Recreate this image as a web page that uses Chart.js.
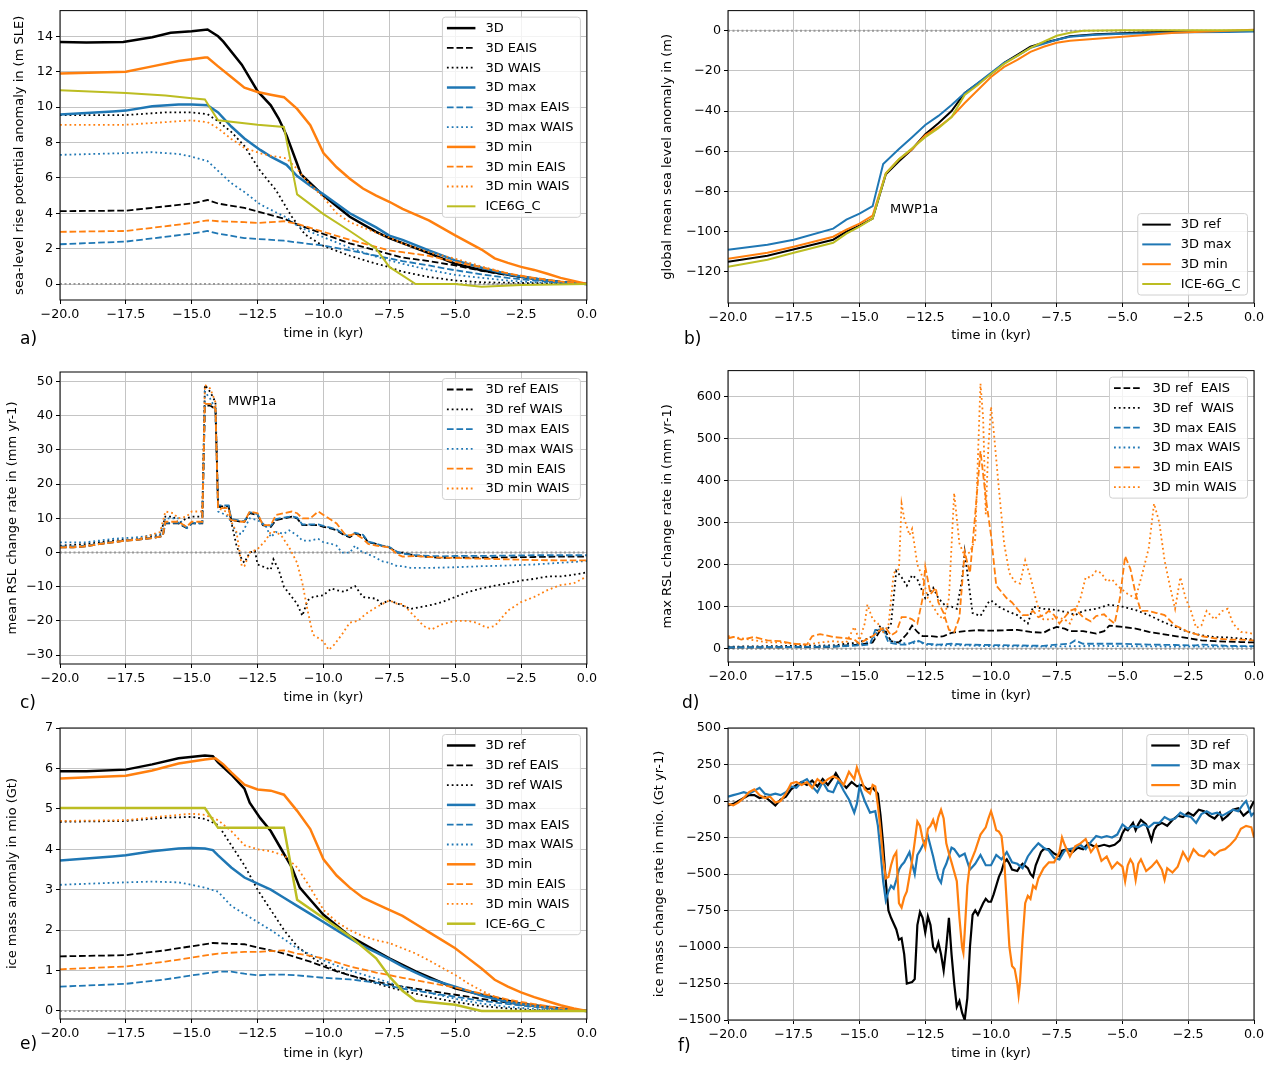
<!DOCTYPE html>
<html>
<head>
<meta charset="UTF-8">
<title>Antarctic ice sheet 3D runs</title>
<script src="https://cdn.jsdelivr.net/npm/chart.js"></script>
<style>
	body { margin: 0; background: #fff; }
	#wrap { position: relative; width: 1273px; height: 1065px; font-family: 'DejaVu Sans'; }
	#wrap canvas { position: absolute; }
	.lab { position: absolute; font-size: 17px; line-height: 20px; color: #000; }
	.note { position: absolute; font-size: 13px; line-height: 16px; color: #000; }
</style>
</head>
<body>
<div id="wrap">
	<canvas id="ca"></canvas>
	<canvas id="cb"></canvas>
	<canvas id="cc"></canvas>
	<canvas id="cd"></canvas>
	<canvas id="ce"></canvas>
	<canvas id="cf"></canvas>
	<div class="lab" style="left:20px;top:328px">a)</div>
	<div class="lab" style="left:684px;top:328px">b)</div>
	<div class="lab" style="left:20px;top:692px">c)</div>
	<div class="lab" style="left:682px;top:692px">d)</div>
	<div class="lab" style="left:20px;top:1033px">e)</div>
	<div class="lab" style="left:678px;top:1035px">f)</div>
	<div class="note" style="left:890px;top:201px">MWP1a</div>
	<div class="note" style="left:228px;top:393px">MWP1a</div>
</div>

<script>
// ---- common ticks ----
var xTicks = [-20, -17.5, -15, -12.5, -10, -7.5, -5, -2.5, 0];

// ---- a) sea-level rise potential (m SLE) ----
var aTicks = [0, 2, 4, 6, 8, 10, 12, 14];
var a_t_ref = [-20,-19,-17.6,-16.5,-15.8,-15,-14.4,-14,-13.8,-13.1,-12.5,-12,-11.7,-11.4,-11,-10.85,-10.5,-10,-9,-8,-7.5,-6,-5,-4,-2.5,-1,0];
var a_ref = [13.68,13.65,13.68,13.95,14.2,14.28,14.38,14.0,13.7,12.4,10.9,10.1,9.35,8.4,6.8,6.2,5.7,5.0,3.8,2.95,2.6,1.75,1.15,0.78,0.41,0.1,0];
var a_t_ref_eais = [-20,-17.5,-15,-14.4,-14,-13,-12.5,-11.5,-11,-10,-9,-8,-7,-6,-5,-4,-3,-2,-1,0];
var a_ref_eais = [4.12,4.15,4.55,4.75,4.55,4.3,4.1,3.7,3.38,2.83,2.3,1.9,1.5,1.3,1.05,0.75,0.5,0.3,0.12,0];
var a_t_ref_wais = [-20,-17.5,-16,-15,-14.4,-14,-13.5,-13,-12.4,-11.8,-11.2,-10.7,-10,-9,-8,-7.5,-7,-6,-5,-4,0];
var a_ref_wais = [9.55,9.55,9.7,9.7,9.6,9.2,8.6,7.8,6.4,5.3,3.8,2.8,2.15,1.6,1.15,0.95,0.7,0.4,0.2,0.1,0];
var a_t_max = [-20,-18,-17.5,-16.5,-15.5,-15,-14.4,-14,-13.5,-13,-12.4,-12,-11.4,-11,-10.5,-10,-9,-8,-7.5,-7,-6,-5,-4,-3,-2,-1,0];
var a_max = [9.58,9.75,9.8,10.05,10.15,10.15,10.1,9.7,8.9,8.23,7.58,7.2,6.74,6.1,5.55,5.07,4.0,3.2,2.74,2.5,1.9,1.34,0.92,0.56,0.3,0.12,0];
var a_t_max_eais = [-20,-17.5,-15,-14.4,-14,-13,-12.5,-11.5,-11,-10,-9,-8,-7.5,-7,-6,-5,-4,-3,-2,-1,0];
var a_max_eais = [2.25,2.4,2.85,3.0,2.85,2.6,2.55,2.45,2.35,2.18,1.9,1.6,1.45,1.3,1.05,0.78,0.55,0.35,0.2,0.07,0];
var a_t_max_wais = [-20,-17.5,-16.5,-15.5,-15,-14.4,-14,-13.5,-13,-12.4,-12,-11.4,-11,-10.5,-10,-9,-8,-7,-6,-5,-4,-3,-2,0];
var a_max_wais = [7.3,7.4,7.45,7.35,7.2,6.95,6.4,5.7,5.2,4.5,4.2,3.76,3.3,2.95,2.65,2.05,1.55,1.15,0.8,0.52,0.35,0.2,0.1,0];
var a_t_min = [-20,-17.5,-16.5,-15.5,-14.5,-14.4,-14,-13.5,-13,-12.5,-12,-11.5,-11,-10.5,-10,-9.5,-9,-8.5,-8,-7.5,-7,-6,-5,-4,-3.5,-3,-2.5,-2,-1.5,-1,0];
var a_min = [11.9,12.0,12.3,12.6,12.8,12.8,12.3,11.7,11.1,10.85,10.7,10.56,9.9,8.98,7.4,6.6,5.95,5.4,5.0,4.65,4.25,3.6,2.75,1.95,1.45,1.2,0.97,0.8,0.58,0.35,0];
var a_t_min_eais = [-20,-17.5,-15,-14.4,-14,-13,-12.5,-12,-11.5,-11,-10,-9,-8,-7.5,-7,-6,-5,-4,-3,-2,-1,0];
var a_min_eais = [2.95,3.0,3.45,3.6,3.55,3.5,3.45,3.5,3.55,3.4,2.95,2.5,2.1,1.9,1.8,1.6,1.25,0.95,0.6,0.35,0.15,0];
var a_t_min_wais = [-20,-17.5,-16,-15,-14.4,-14,-13.5,-13,-12.4,-12,-11.4,-11,-10.5,-10,-9.5,-9,-8,-7.5,-7,-6,-5,-4,-3,-2,-1,0];
var a_min_wais = [9.0,9.0,9.15,9.25,9.15,8.8,8.2,7.7,7.39,7.25,7.1,6.5,5.6,4.9,4.0,3.5,2.9,2.64,2.3,1.8,1.43,1.0,0.6,0.3,0.12,0];
var a_t_ice = [-20,-17.5,-16,-15,-14.5,-14,-12.5,-11.5,-11,-10,-9,-8,-7.5,-6.5,-5,-4,-2.5,0];
var a_ice = [10.95,10.8,10.65,10.5,10.43,9.25,9.0,8.88,5.07,3.95,3.0,2.0,0.97,0,0,-0.15,-0.05,0];

// ---- b) global mean sea level (m) ----
var bTicks = [-120, -100, -80, -60, -40, -20, 0];
var b_t_ref = [-20,-18.5,-16,-15.5,-15,-14.5,-14,-13.5,-13,-12.5,-12,-11.5,-11,-10,-9.5,-9,-8.5,-8,-7.5,-7,-6,-5,-4,-2.5,0];
var b_ref = [-115,-112,-104,-100,-97,-93.5,-71.5,-65,-59,-51.5,-46,-40,-31,-21.5,-16,-12,-8,-6,-4.5,-2.8,-1.8,-1.3,-0.8,-0.4,0];
var b_t_max = [-20,-18.5,-17.5,-16,-15.5,-15,-14.5,-14.1,-13.5,-13,-12.5,-12,-11.5,-11,-10.5,-10,-9.5,-9,-8.5,-8,-7.5,-7,-6,-5,-4,-2.5,-1,0];
var b_max = [-109,-106.5,-104,-98.5,-94,-91,-87.3,-66.3,-58.9,-53,-46.9,-42.4,-37,-31,-26,-21,-16,-12.5,-8.5,-6.5,-4.5,-3,-2,-1.5,-1.2,-0.8,-0.6,-0.4];
var b_t_min = [-20,-18.5,-17.5,-16,-15.5,-15,-14.5,-14,-13.5,-13,-12.5,-12,-11.5,-11,-10.5,-10,-9.5,-9,-8.5,-8,-7.5,-7,-6,-5,-4,-3,-2,-1,0];
var b_min = [-113.5,-110.5,-107.5,-102.5,-99,-96,-92,-71,-64,-59,-52,-48,-43,-36,-29.5,-23,-18,-14.5,-10.5,-8,-6,-5,-4,-3,-2,-1,-0.5,0,0.5];
var b_t_ice = [-20,-18.5,-17.5,-16,-15.5,-15,-14.5,-14,-13.5,-13,-12.5,-12,-11.5,-11,-10.5,-10,-9.5,-9,-8.5,-8,-7.5,-7,-6.5,-5,0];
var b_ice = [-117.5,-114,-110.5,-105.5,-101,-97.5,-93.5,-71,-64,-58.5,-53,-48.5,-43,-32,-27,-21.5,-16.5,-12.5,-8.5,-5.5,-2.5,-1,0,0.2,0.2];

// ---- c) mean RSL change rate (mm/yr) ----
var cTicks = [-30, -20, -10, 0, 10, 20, 30, 40, 50];
var c_t_eais = [-20,-19.5,-19,-18.5,-18,-17.5,-17,-16.5,-16.1,-16,-15.5,-15.2,-15,-14.6,-14.5,-14.3,-14.1,-14,-13.6,-13.5,-13.1,-13,-12.8,-12.5,-12.3,-12,-11.8,-11.5,-11.2,-11,-10.8,-10.5,-10.2,-10,-9.7,-9.5,-9.2,-9,-8.8,-8.5,-8.3,-8,-7.8,-7.5,-7.2,-7,-6.5,-6,-5.5,-5,-4,-3,-2,-1,0];
var c_ref_eais = [1.5,1.5,1.8,2.5,3,3.5,3.8,4.2,4.8,8.5,8.5,7.2,8.5,8.5,43,43,42,13.5,13.5,9.5,9,9,11.5,11,8,7.5,9.5,10,10.5,10,8,8,8,7.5,7,6.5,5,4.5,5.5,5,3,2.5,2,1.5,0,0,-1,-1.3,-1.6,-1.5,-1.5,-1.4,-1.3,-1.2,-1.2];
var c_max_eais = [1.8,1.8,2,2.6,3.1,3.6,3.9,4.3,4.9,8.7,8.7,7.3,8.7,8.7,43.5,43.5,42,13.8,13.8,9.8,9.2,9.2,11.8,11.2,8.2,7.8,9.8,10.2,10.6,10.2,8.2,8.2,8.2,7.8,7.2,6.8,5.2,4.8,5.8,5.2,3.2,2.6,2.1,1.6,0.2,-0.3,-0.8,-1,-1.1,-1,-1,-0.9,-0.8,-0.8,-0.8];
var c_min_eais = [1.5,1.5,1.8,2.5,3,3.5,3.8,4.2,4.8,9,9,7.5,9,9,43.5,43.5,42,13,13,9.5,9,9,12,11.5,8,8,11,11.5,12,11.5,10,10,12,11,9.5,8.5,5.5,5,5.5,4,2.5,2,1.8,1.5,-0.5,-1.2,-1,-1.3,-1.5,-1.6,-1.8,-2,-2.2,-2.3,-2.3];
var c_t_ref_wais = [-20,-19,-18,-17,-16.2,-16,-15.7,-15.5,-15.2,-15,-14.6,-14.5,-14.3,-14.1,-14,-13.8,-13.6,-13.5,-13.3,-13.1,-13,-12.8,-12.6,-12.5,-12,-11.9,-11.7,-11.5,-11,-10.8,-10.6,-10.4,-10,-9.7,-9.5,-9.2,-9,-8.8,-8.5,-8,-7.8,-7.5,-7,-6.7,-6,-5.5,-5,-4.5,-4,-3.5,-3,-2.5,-2,-1.5,-1,-0.5,0];
var c_ref_wais = [2,2.5,3.5,4,5,10.5,10.5,8.5,10,10.5,10.5,49,47,44,13.5,13,13.5,9,2,-2,-3,0,0.5,-3.5,-5,-2,-5,-10,-15,-18.5,-14,-13,-12.5,-10.5,-11,-11.5,-10.5,-9.8,-13,-13.5,-15,-14,-15.5,-16.5,-15.5,-14.5,-13,-11.5,-10.5,-9.7,-9,-8.2,-7.7,-7,-7,-6.5,-5.8];
var c_t_max_wais = [-20,-19,-18,-17,-16.2,-16,-15.5,-15.2,-15,-14.6,-14.5,-14.3,-14.1,-14,-13.7,-13.5,-13.3,-13.1,-12.8,-12.5,-12.2,-12,-11.8,-11.5,-11.3,-11,-10.8,-10.5,-10.2,-10,-9.7,-9.5,-9.3,-9,-8.8,-8.6,-8.3,-8,-7.8,-7.5,-7.2,-7,-6.7,-6,-5,-4,-3,-2,-1,0];
var c_max_wais = [3,3,4,4.5,5.5,10,10,7,8.5,8.5,47,45,42,12,11,9,5.5,5.5,10,9.5,8,4.5,6,5.5,6.5,5,3.5,3.5,4,3,2.5,2,0,0,2,0.5,-0.5,-1.5,-2.5,-3,-4,-4,-4.5,-4.5,-4.3,-4,-3.8,-3.5,-3,-2.5];
var c_t_min_wais = [-20,-19,-18,-17,-16.2,-16,-15.7,-15.5,-15.2,-15,-14.6,-14.5,-14.3,-14.1,-14,-13.7,-13.5,-13.3,-13.1,-13,-12.8,-12.5,-12.2,-12,-11.8,-11.6,-11.3,-11,-10.8,-10.6,-10.4,-10.2,-10,-9.8,-9.6,-9.3,-9,-8.7,-8.4,-8,-7.5,-7.2,-7,-6.5,-6.2,-5.9,-5.5,-5,-4.5,-4.2,-3.8,-3.5,-3,-2.5,-2,-1.5,-1,-0.5,0];
var c_min_wais = [1.5,2,3,4,6,12,11.5,10,10.5,12,12,49,48,44,13,12,9,6,-4,-4,0,1,3.5,6,6,5,1.5,-3,-9,-17,-24,-25,-26,-28.5,-27,-24,-20.5,-20,-18,-16,-14,-15,-15,-19,-21.5,-22.5,-21,-20,-20,-20.5,-22,-21.5,-17,-14.5,-13,-11,-9.5,-9,-7];

// ---- d) max RSL change rate (mm/yr) ----
var dTicks = [0, 100, 200, 300, 400, 500, 600];
var d_t_ref_eais = [-20,-17,-16,-15.5,-15,-14.5,-14.2,-14,-13.8,-13.5,-13.2,-13,-12.8,-12.6,-12.3,-12,-11.8,-11.5,-11,-10.5,-10,-9.5,-9,-8.5,-8,-7.8,-7.5,-7.2,-7,-6.5,-6,-5.7,-5.5,-5,-4.5,-4,-3.5,-3,-2.5,-2,-1.5,-1,-0.5,0];
var d_ref_eais = [3,4,5,8,10,15,45,40,18,15,35,55,40,30,30,28,30,38,42,44,43,44,45,40,38,45,52,48,42,42,36,42,55,52,48,40,35,30,25,20,18,17,16,15];
var d_t_ref_wais = [-20,-16,-15.5,-15,-14.5,-14.2,-14,-13.8,-13.6,-13.4,-13.2,-13,-12.8,-12.5,-12.2,-12,-11.7,-11.5,-11.3,-11.1,-11,-10.9,-10.7,-10.4,-10.1,-10,-9.7,-9.4,-9,-8.6,-8.4,-8,-7.5,-7,-6.8,-6.5,-6,-5.5,-5,-4.5,-4,-3.5,-3,-2.5,-2,-1.5,-1,0];
var d_ref_wais = [5,8,12,15,30,55,40,60,185,170,150,175,165,120,145,120,100,100,95,165,230,180,85,78,110,115,100,90,80,60,100,95,92,85,80,90,95,105,100,92,80,65,52,40,32,28,27,22];
var d_t_max_eais = [-20,-16,-15,-14.6,-14.4,-14.1,-13.9,-13.5,-13.2,-12.8,-12.5,-12,-11.5,-11,-10,-9,-8,-7.5,-7,-6.8,-6.5,-5,-4,-3,-2.2,-2,-1,0];
var d_max_eais = [3,5,8,10,45,45,15,10,10,20,12,10,12,10,9,8,7,10,12,20,12,12,10,9,8,10,7,6];
var d_t_max_wais = [-20,-16,-15,-14.5,-14.3,-14.1,-13.9,-13.5,-13,-12.8,-12.5,-12,-11,-10,-9,-8,-7,-6,-5,-4,-3,-2,-1,0];
var d_max_wais = [3,6,10,20,45,48,20,14,12,18,10,8,8,6,6,5,6,7,6,6,5,5,5,5];
var d_t_min_eais = [-20,-19.8,-19.5,-19,-18.5,-18,-17.5,-17,-16.8,-16.5,-16,-15.5,-15.2,-15,-14.8,-14.5,-14.2,-14,-13.8,-13.6,-13.4,-13.2,-13,-12.8,-12.6,-12.5,-12.3,-12.1,-12,-11.8,-11.6,-11.4,-11.2,-11,-10.8,-10.6,-10.4,-10.2,-10,-9.8,-9.6,-9.4,-9.2,-9,-8.8,-8.6,-8.4,-8.2,-8,-7.8,-7.6,-7.4,-7.2,-7,-6.8,-6.5,-6.2,-6,-5.7,-5.5,-5.3,-5.1,-4.9,-4.7,-4.5,-4.3,-4,-3.7,-3.4,-3,-2.8,-2.5,-2.2,-2,-1.8,-1.5,-1,-0.5,0];
var d_min_eais = [25,28,22,28,20,18,12,10,30,35,28,25,22,12,20,30,45,50,32,40,75,75,70,60,120,195,130,145,110,85,45,40,75,230,180,320,470,360,270,150,135,120,110,95,80,80,90,75,80,90,80,60,75,90,95,75,65,78,82,70,60,120,220,190,130,90,90,85,80,55,50,40,35,30,28,25,22,22,20];
var d_t_min_wais = [-20,-19.5,-19,-18.5,-18,-17.5,-17,-16.5,-16,-15.5,-15.2,-15,-14.8,-14.7,-14.5,-14.3,-14.1,-13.9,-13.7,-13.5,-13.4,-13.3,-13.1,-13,-12.8,-12.6,-12.4,-12.2,-12,-11.8,-11.6,-11.4,-11.2,-11,-10.8,-10.6,-10.5,-10.4,-10.3,-10.2,-10.1,-10,-9.9,-9.7,-9.5,-9.3,-9.1,-8.9,-8.7,-8.5,-8.3,-8.1,-8,-7.7,-7.5,-7.2,-7,-6.8,-6.6,-6.4,-6.2,-6,-5.8,-5.6,-5.4,-5.2,-5,-4.8,-4.5,-4.2,-4,-3.8,-3.6,-3.4,-3.2,-3,-2.8,-2.6,-2.4,-2.2,-2,-1.8,-1.5,-1.2,-1,-0.8,-0.5,-0.2,0];
var d_min_wais = [30,25,20,15,15,12,10,15,18,15,52,20,60,105,70,60,40,55,180,190,345,310,270,285,200,170,120,100,80,70,120,370,250,220,230,260,450,630,550,320,480,575,520,380,250,180,160,155,210,170,120,75,70,70,75,70,60,90,120,170,170,185,180,160,165,150,140,130,120,190,240,345,300,210,150,95,170,120,90,50,55,90,70,90,95,60,40,38,35];

// ---- e) ice mass anomaly (mio Gt) ----
var eTicks = [0, 1, 2, 3, 4, 5, 6, 7];
var e_t_ref = [-20,-19,-17.5,-16.5,-15.5,-14.5,-14.2,-14,-13.5,-13,-12.8,-12.4,-12,-11.6,-11.2,-10.9,-10.5,-10,-9,-8.3,-7.5,-6.5,-5,-4,-2.5,-1,0];
var e_ref = [5.93,5.93,5.97,6.1,6.25,6.32,6.3,6.15,5.85,5.5,5.15,4.77,4.45,4.0,3.55,3.05,2.75,2.38,1.85,1.59,1.3,0.98,0.56,0.4,0.18,0.06,0];
var e_t_ref_eais = [-20,-17.5,-16,-15,-14.2,-13.5,-13,-12.5,-12,-11.5,-11,-10.5,-10,-9.5,-9,-8,-7,-6,-5,-4,-3,-2,-1,0];
var e_ref_eais = [1.35,1.38,1.5,1.6,1.68,1.66,1.65,1.57,1.5,1.42,1.32,1.22,1.1,0.98,0.88,0.72,0.6,0.5,0.4,0.3,0.2,0.12,0.05,0];
var e_t_ref_wais = [-20,-17.5,-16,-15,-14.5,-14,-13.5,-13,-12.5,-12,-11.5,-11,-10.5,-10,-9.5,-9,-8,-7,-6,-5,-4,-3,-2,0];
var e_ref_wais = [4.68,4.7,4.78,4.8,4.75,4.6,4.1,3.6,3.0,2.5,2.0,1.6,1.35,1.15,1.0,0.88,0.68,0.5,0.35,0.22,0.12,0.06,0.02,0];
var e_t_max = [-20,-18,-17.5,-16.5,-15.5,-15,-14.5,-14.2,-14,-13.5,-13,-12.5,-12,-11.5,-11,-10.5,-10,-9.5,-9,-8.5,-8,-7.5,-7,-6.5,-6,-5,-4,-3,-2,-1,0];
var e_max = [3.72,3.82,3.85,3.95,4.02,4.03,4.02,3.98,3.85,3.55,3.3,3.15,3.0,2.8,2.6,2.4,2.2,2.0,1.8,1.6,1.45,1.28,1.1,0.95,0.8,0.6,0.38,0.22,0.12,0.05,0];
var e_t_max_eais = [-20,-17.5,-16,-15,-14,-13.5,-13,-12.5,-12,-11.5,-11,-10,-9,-8,-7,-6,-5,-4,-3,-2,-1,0];
var e_max_eais = [0.6,0.67,0.78,0.88,0.97,0.97,0.92,0.88,0.9,0.9,0.88,0.82,0.78,0.7,0.55,0.45,0.35,0.25,0.17,0.1,0.04,0];
var e_t_max_wais = [-20,-18,-16.5,-15.5,-15,-14.5,-14,-13.5,-13,-12.5,-12,-11.5,-11,-10.5,-10,-9.5,-9,-8,-7,-6,-5,-4,-3,-2,0];
var e_max_wais = [3.12,3.17,3.2,3.18,3.12,3.05,2.95,2.6,2.4,2.2,2.0,1.78,1.55,1.4,1.25,1.12,1.0,0.8,0.6,0.45,0.3,0.18,0.1,0.05,0];
var e_t_min = [-20,-17.5,-16.5,-15.5,-14.5,-14.1,-13.8,-13.5,-13,-12.5,-12,-11.5,-11,-10.5,-10,-9.5,-9,-8.5,-8,-7.5,-7,-6.5,-6,-5.5,-5,-4.5,-4,-3.5,-3,-2.5,-2,-1.5,-1,-0.5,0];
var e_min = [5.75,5.82,5.95,6.12,6.22,6.25,6.1,5.9,5.6,5.48,5.45,5.35,4.95,4.5,3.75,3.35,3.05,2.8,2.65,2.5,2.35,2.15,1.95,1.75,1.55,1.3,1.05,0.77,0.6,0.46,0.34,0.24,0.14,0.06,0];
var e_t_min_eais = [-20,-17.5,-16,-15,-14,-13,-12.5,-12,-11.5,-11,-10,-9,-8,-7,-6,-5,-4,-3,-2,-1,0];
var e_min_eais = [1.03,1.1,1.22,1.32,1.42,1.46,1.46,1.48,1.5,1.42,1.3,1.1,0.95,0.82,0.7,0.58,0.43,0.28,0.17,0.07,0];
var e_t_min_wais = [-20,-17.5,-16,-15,-14.5,-14,-13.5,-13,-12.5,-12,-11.5,-11,-10.5,-10,-9.5,-9,-8.5,-8,-7.5,-7,-6.5,-6,-5.5,-5,-4.5,-4,-3.5,-3,-2.5,-2,-1,0];
var e_min_wais = [4.7,4.72,4.82,4.88,4.85,4.72,4.45,4.1,4.0,3.95,3.85,3.55,3.05,2.5,2.2,2.0,1.85,1.75,1.68,1.55,1.42,1.25,1.07,0.89,0.68,0.5,0.35,0.25,0.18,0.12,0.05,0];
var e_t_ice = [-20,-14.5,-14,-11.5,-11,-10,-9,-8,-7.5,-7,-6.5,-5,-4,0];
var e_ice = [5.02,5.02,4.53,4.53,2.75,2.3,1.85,1.3,0.85,0.5,0.25,0.15,0,0];

// ---- f) ice mass change rate (mio Gt/yr) ----
var fTicks = [-1500, -1250, -1000, -750, -500, -250, 0, 250, 500];
var f_t_ref = [-20,-19.8,-19.6,-19.4,-19.2,-19,-18.8,-18.6,-18.4,-18.2,
	-18,-17.8,-17.6,-17.4,-17.2,-17,-16.8,-16.6,-16.4,-16.2,
	-16,-15.9,-15.7,-15.5,-15.3,-15.1,-14.9,-14.7,-14.5,-14.3,
	-14.2,-14.1,-14,-13.9,-13.8,-13.6,-13.5,-13.4,-13.3,-13.2,
	-13,-12.9,-12.8,-12.7,-12.6,-12.5,-12.4,-12.3,-12.2,-12.1,
	-12,-11.9,-11.8,-11.7,-11.6,-11.5,-11.4,-11.3,-11.2,-11.1,
	-11,-10.9,-10.8,-10.7,-10.6,-10.5,-10.4,-10.3,-10.2,-10.1,
	-10,-9.9,-9.8,-9.7,-9.6,-9.5,-9.4,-9.3,-9.2,-9,
	-8.9,-8.8,-8.6,-8.5,-8.4,-8.3,-8.1,-8,-7.8,-7.6,
	-7.4,-7.3,-7.1,-6.9,-6.7,-6.5,-6.3,-6.1,-5.9,-5.7,
	-5.5,-5.3,-5.1,-5,-4.9,-4.8,-4.6,-4.5,-4.4,-4.3,
	-4.1,-3.9,-3.8,-3.7,-3.5,-3.3,-3.1,-2.9,-2.7,-2.5,
	-2.3,-2.1,-1.9,-1.7,-1.5,-1.3,-1.2,-1,-0.8,-0.6,
	-0.4,-0.2,0];
var f_ref = [-30,-20,0,20,40,40,20,30,0,-30,
	10,30,80,110,130,110,140,100,150,110,
	160,190,130,90,130,100,110,80,90,50,
	-100,-300,-550,-750,-800,-880,-950,-940,-1050,-1250,
	-1240,-1220,-850,-760,-800,-900,-790,-850,-1000,-1030,
	-970,-1050,-1160,-1000,-800,-1050,-1250,-1410,-1370,-1450,
	-1500,-1350,-1000,-780,-750,-780,-740,-700,-670,-690,
	-690,-640,-580,-520,-480,-420,-400,-430,-470,-480,
	-450,-430,-460,-500,-520,-440,-350,-330,-330,-360,
	-380,-340,-330,-350,-320,-330,-290,-310,-310,-300,
	-310,-300,-270,-220,-190,-200,-150,-200,-160,-130,
	-160,-270,-200,-170,-150,-170,-130,-100,-110,-80,
	-100,-60,-70,-100,-120,-80,-130,-100,-60,-50,
	-100,-70,0];
var f_t_max = [-20,-19.8,-19.6,-19.4,-19.2,-19,-18.8,-18.6,-18.4,-18.2,
	-18,-17.8,-17.6,-17.4,-17.2,-17,-16.8,-16.6,-16.4,-16.2,
	-16,-15.8,-15.6,-15.4,-15.2,-15.1,-15,-14.8,-14.6,-14.4,
	-14.3,-14.2,-14.1,-14,-13.9,-13.8,-13.7,-13.6,-13.5,-13.4,
	-13.3,-13.1,-13,-12.9,-12.8,-12.7,-12.5,-12.4,-12.3,-12.2,
	-12.1,-12,-11.9,-11.8,-11.7,-11.5,-11.4,-11.2,-11,-10.8,
	-10.6,-10.4,-10.2,-10,-9.8,-9.6,-9.4,-9.2,-9,-8.8,
	-8.6,-8.4,-8.2,-8,-7.8,-7.6,-7.4,-7.2,-7,-6.8,
	-6.6,-6.4,-6.2,-6,-5.8,-5.6,-5.4,-5.2,-5,-4.8,
	-4.6,-4.4,-4.2,-4,-3.8,-3.6,-3.4,-3.2,-3,-2.8,
	-2.6,-2.4,-2.2,-2,-1.8,-1.6,-1.4,-1.2,-1,-0.8,
	-0.6,-0.4,-0.3,-0.1,0];
var f_max = [30,40,50,60,50,70,90,50,40,50,
	40,60,100,90,130,150,100,60,130,70,
	60,140,70,10,-80,-20,100,0,-80,-70,
	-170,-350,-550,-680,-620,-580,-600,-540,-470,-440,
	-420,-350,-430,-500,-370,-340,-270,-240,-310,-380,
	-460,-530,-560,-470,-430,-320,-330,-380,-360,-470,
	-430,-370,-440,-440,-370,-400,-350,-420,-430,-460,
	-380,-330,-290,-320,-340,-390,-400,-340,-330,-320,
	-300,-330,-280,-240,-250,-240,-250,-230,-160,-190,
	-170,-180,-160,-180,-150,-150,-110,-130,-120,-80,
	-100,-110,-150,-90,-70,-90,-80,-100,-80,-60,
	-70,-20,0,-100,-80];
var f_t_min = [-20,-19.8,-19.6,-19.4,-19.2,-19,-18.8,-18.6,-18.4,-18.2,
	-18,-17.8,-17.6,-17.4,-17.2,-17,-16.8,-16.6,-16.4,-16.2,
	-16,-15.8,-15.6,-15.4,-15.2,-15.1,-15,-14.8,-14.6,-14.5,
	-14.4,-14.3,-14.2,-14.1,-14,-13.9,-13.8,-13.7,-13.6,-13.5,
	-13.4,-13.3,-13.2,-13,-12.9,-12.8,-12.7,-12.6,-12.5,-12.4,
	-12.3,-12.2,-12.1,-12,-11.9,-11.8,-11.7,-11.6,-11.5,-11.3,
	-11.2,-11.1,-11.05,-11,-10.9,-10.8,-10.6,-10.4,-10.2,-10.1,
	-10,-9.9,-9.8,-9.7,-9.6,-9.5,-9.4,-9.3,-9.2,-9.1,
	-9,-8.95,-8.9,-8.8,-8.7,-8.6,-8.5,-8.4,-8.3,-8.2,
	-8,-7.8,-7.6,-7.4,-7.3,-7.2,-7,-6.8,-6.6,-6.4,
	-6.2,-6,-5.8,-5.6,-5.4,-5.2,-5,-4.9,-4.8,-4.7,
	-4.6,-4.5,-4.4,-4.3,-4.1,-3.9,-3.7,-3.5,-3.4,-3.3,
	-3.1,-2.9,-2.7,-2.5,-2.3,-2.1,-1.9,-1.7,-1.5,-1.3,
	-1.1,-0.9,-0.7,-0.5,-0.3,-0.1,0];
var f_min = [-20,-30,-10,20,60,80,40,20,30,-10,
	0,50,120,130,110,130,90,150,120,150,
	170,150,110,200,150,230,180,80,50,110,
	100,-30,-200,-400,-530,-520,-440,-380,-350,-700,
	-730,-660,-620,-410,-280,-140,-170,-260,-320,-190,
	-170,-130,-190,-110,-60,-120,-290,-360,-420,-550,
	-800,-1000,-1040,-900,-580,-430,-340,-230,-180,-120,
	-70,-130,-200,-210,-240,-400,-700,-1000,-1130,-1150,
	-1250,-1330,-1250,-950,-700,-650,-670,-580,-600,-530,
	-460,-420,-420,-350,-250,-300,-380,-310,-290,-260,
	-350,-300,-410,-380,-460,-420,-450,-550,-440,-400,
	-430,-540,-430,-400,-480,-450,-410,-470,-540,-460,
	-490,-450,-350,-410,-330,-370,-380,-340,-370,-340,
	-330,-300,-260,-190,-170,-180,-250];

// ---- colours ----
var BLACK = '#000000', BLUE = '#1f77b4', ORANGE = '#ff7f0e', OLIVE = '#bcbd22';
var FONT = 'DejaVu Sans';

Chart.defaults.font.family = FONT;
Chart.defaults.color = '#000';

function fmt(v, d) {
	var s = Math.abs(v).toFixed(d);
	return (v < 0 ? '\u2212' : '') + s;
}

// one line, matplotlib style dashes
function ser(label, t, v, color, kind, w) {
	var dash = [];
	if (kind == 'dashed') dash = [3.7 * w, 1.6 * w];
	if (kind == 'dotted') dash = [w, 1.65 * w];
	return {
		label: label,
		data: t.map(function (x, i) { return { x: x, y: v[i] }; }),
		borderColor: color, borderWidth: w, borderDash: dash,
		pointRadius: 0, tension: 0, fill: false
	};
}

// gray dotted zero line, not in legend
function zeroLine() {
	return {
		data: [{ x: -20, y: 0 }, { x: 0, y: 0 }],
		borderColor: '#999999', borderWidth: 2, borderDash: [2, 2.5],
		pointRadius: 0, fill: false
	};
}

// black frame round the plot area
var framePlugin = {
	id: 'frame',
	afterDatasetsDraw: function (chart) {
		var a = chart.chartArea, ctx = chart.ctx;
		ctx.save();
		ctx.strokeStyle = '#000';
		ctx.lineWidth = 1;
		ctx.strokeRect(a.left, a.top, a.right - a.left, a.bottom - a.top);
		ctx.restore();
	}
};

// legend box drawn inside the axes like matplotlib
var mplLegend = {
	id: 'mplLegend',
	afterDraw: function (chart, args, opts) {
		var ctx = chart.ctx, a = chart.chartArea;
		var sets = chart.data.datasets.filter(function (d) { return d.label; });
		if (!sets.length) return;
		ctx.save();
		ctx.font = '13px "' + FONT + '"';
		var tw = 0;
		sets.forEach(function (d) { tw = Math.max(tw, ctx.measureText(d.label).width); });
		var rowH = 19.8;
		var w = 43 + tw + 7, h = (sets.length - 1) * rowH + 22;
		var x0 = a.right - 6.5 - w;
		var y0 = opts.bottom ? a.bottom - 8 - h : a.top + 6.5;
		ctx.beginPath();
		ctx.roundRect(x0, y0, w, h, 3);
		ctx.fillStyle = 'rgba(255,255,255,0.8)';
		ctx.fill();
		ctx.strokeStyle = '#d0d0d0';
		ctx.lineWidth = 1;
		ctx.stroke();
		sets.forEach(function (d, i) {
			var y = y0 + 11 + i * rowH;
			ctx.beginPath();
			ctx.setLineDash(d.borderDash || []);
			ctx.strokeStyle = d.borderColor;
			ctx.lineWidth = d.borderWidth;
			ctx.moveTo(x0 + 4.5, y);
			ctx.lineTo(x0 + 33, y);
			ctx.stroke();
			ctx.setLineDash([]);
			ctx.fillStyle = '#000';
			ctx.textBaseline = 'middle';
			ctx.fillText(d.label, x0 + 43, y + 0.5);
		});
		ctx.restore();
	}
};

Chart.register(framePlugin, mplLegend);

function panel(id, g, yTicks, yMin, yMax, yTitle, sets, legendBottom) {
	var c = document.getElementById(id);
	c.width = g.w; c.height = g.h;
	c.style.left = g.x + 'px'; c.style.top = g.y + 'px';
	c.style.width = g.w + 'px'; c.style.height = g.h + 'px';

	var all = [zeroLine()].concat(sets);
	// later series drawn on top
	all.forEach(function (d, i) { d.order = all.length - i; });

	var tickFont = { family: FONT, size: 12.7 };
	var titleFont = { family: FONT, size: 13 };
	var gridCol = '#c4c4c4';

	new Chart(c, {
		type: 'line',
		data: { datasets: all },
		options: {
			responsive: false,
			animation: false,
			devicePixelRatio: 1,
			layout: { padding: { left: 0, bottom: 0, top: g.T - g.y, right: g.x + g.w - g.R } },
			plugins: {
				legend: { display: false },
				tooltip: { enabled: false },
				mplLegend: { bottom: !!legendBottom }
			},
			scales: {
				x: {
					type: 'linear', min: -20, max: 0,
					afterBuildTicks: function (s) { s.ticks = xTicks.map(function (v) { return { value: v }; }); },
					afterFit: function (s) { s.height = g.y + g.h - g.B; },
					grid: { color: gridCol, lineWidth: 1, tickColor: '#000', tickLength: 4, drawTicks: true },
					border: { display: false },
					ticks: { font: tickFont, color: '#000', padding: 3, maxRotation: 0, autoSkip: false,
						callback: function (v) { return fmt(v, 1); } },
					title: { display: true, text: 'time in (kyr)', color: '#000', font: titleFont,
						padding: { top: 0, bottom: g.xt } }
				},
				y: {
					type: 'linear', min: yMin, max: yMax,
					afterBuildTicks: function (s) { s.ticks = yTicks.map(function (v) { return { value: v }; }); },
					afterFit: function (s) { s.width = g.L - g.x; },
					grid: { color: gridCol, lineWidth: 1, tickColor: '#000', tickLength: 4, drawTicks: true },
					border: { display: false },
					ticks: { font: tickFont, color: '#000', padding: 3, autoSkip: false,
						callback: function (v) { return fmt(v, 0); } },
					title: { display: true, text: yTitle, color: '#000', font: titleFont,
						padding: { top: g.yt, bottom: 0 } }
				}
			}
		}
	});
}

// a)
panel('ca', { x: 0, y: 0, w: 600, h: 345, L: 60, R: 587, T: 7, B: 300, yt: 12, xt: 4 },
	aTicks, -0.9, 15.45, 'sea-level rise potential anomaly in (m SLE)', [
	ser('3D', a_t_ref, a_ref, BLACK, 'solid', 2.5),
	ser('3D EAIS', a_t_ref_eais, a_ref_eais, BLACK, 'dashed', 1.8),
	ser('3D WAIS', a_t_ref_wais, a_ref_wais, BLACK, 'dotted', 1.8),
	ser('3D max', a_t_max, a_max, BLUE, 'solid', 2.5),
	ser('3D max EAIS', a_t_max_eais, a_max_eais, BLUE, 'dashed', 1.8),
	ser('3D max WAIS', a_t_max_wais, a_max_wais, BLUE, 'dotted', 1.8),
	ser('3D min', a_t_min, a_min, ORANGE, 'solid', 2.5),
	ser('3D min EAIS', a_t_min_eais, a_min_eais, ORANGE, 'dashed', 1.8),
	ser('3D min WAIS', a_t_min_wais, a_min_wais, ORANGE, 'dotted', 1.8),
	ser('ICE6G_C', a_t_ice, a_ice, OLIVE, 'solid', 2)
]);

// b)
panel('cb', { x: 640, y: 0, w: 633, h: 345, L: 728, R: 1254, T: 9, B: 303, yt: 20, xt: 2 },
	bTicks, -135.5, 10, 'global mean sea level anomaly in (m)', [
	ser('3D ref', b_t_ref, b_ref, BLACK, 'solid', 2),
	ser('3D max', b_t_max, b_max, BLUE, 'solid', 2),
	ser('3D min', b_t_min, b_min, ORANGE, 'solid', 2),
	ser('ICE-6G_C', b_t_ice, b_ice, OLIVE, 'solid', 2)
], true);

// c)
panel('cc', { x: 0, y: 360, w: 600, h: 345, L: 60, R: 587, T: 372, B: 664, yt: 5, xt: 0 },
	cTicks, -32.6, 52.8, 'mean RSL change rate in (mm yr-1)', [
	ser('3D ref EAIS', c_t_eais, c_ref_eais, BLACK, 'dashed', 1.8),
	ser('3D ref WAIS', c_t_ref_wais, c_ref_wais, BLACK, 'dotted', 1.8),
	ser('3D max EAIS', c_t_eais, c_max_eais, BLUE, 'dashed', 1.8),
	ser('3D max WAIS', c_t_max_wais, c_max_wais, BLUE, 'dotted', 1.8),
	ser('3D min EAIS', c_t_eais, c_min_eais, ORANGE, 'dashed', 1.8),
	ser('3D min WAIS', c_t_min_wais, c_min_wais, ORANGE, 'dotted', 1.8)
]);

// d)
panel('cd', { x: 640, y: 360, w: 633, h: 345, L: 728, R: 1254, T: 369, B: 662, yt: 20, xt: 2 },
	dTicks, -31.4, 661, 'max RSL change rate in (mm yr-1)', [
	ser('3D ref  EAIS', d_t_ref_eais, d_ref_eais, BLACK, 'dashed', 1.8),
	ser('3D ref  WAIS', d_t_ref_wais, d_ref_wais, BLACK, 'dotted', 1.8),
	ser('3D max EAIS', d_t_max_eais, d_max_eais, BLUE, 'dashed', 1.8),
	ser('3D max WAIS', d_t_max_wais, d_max_wais, BLUE, 'dotted', 1.8),
	ser('3D min EAIS', d_t_min_eais, d_min_eais, ORANGE, 'dashed', 1.8),
	ser('3D min WAIS', d_t_min_wais, d_min_wais, ORANGE, 'dotted', 1.8)
]);

// e)
panel('ce', { x: 0, y: 715, w: 600, h: 350, L: 60, R: 587, T: 728, B: 1019, yt: 5, xt: 4 },
	eTicks, -0.2, 7, 'ice mass anomaly in mio (Gt)', [
	ser('3D ref', e_t_ref, e_ref, BLACK, 'solid', 2.5),
	ser('3D ref EAIS', e_t_ref_eais, e_ref_eais, BLACK, 'dashed', 1.8),
	ser('3D ref WAIS', e_t_ref_wais, e_ref_wais, BLACK, 'dotted', 1.8),
	ser('3D max', e_t_max, e_max, BLUE, 'solid', 2.5),
	ser('3D max EAIS', e_t_max_eais, e_max_eais, BLUE, 'dashed', 1.8),
	ser('3D max WAIS', e_t_max_wais, e_max_wais, BLUE, 'dotted', 1.8),
	ser('3D min', e_t_min, e_min, ORANGE, 'solid', 2.5),
	ser('3D min EAIS', e_t_min_eais, e_min_eais, ORANGE, 'dashed', 1.8),
	ser('3D min WAIS', e_t_min_wais, e_min_wais, ORANGE, 'dotted', 1.8),
	ser('ICE-6G_C', e_t_ice, e_ice, OLIVE, 'solid', 2.5)
]);

// f)
panel('cf', { x: 640, y: 715, w: 633, h: 350, L: 728, R: 1254, T: 728, B: 1020, yt: 12, xt: 4 },
	fTicks, -1500, 500, 'ice mass change rate in mio. (Gt yr-1)', [
	ser('3D ref', f_t_ref, f_ref, BLACK, 'solid', 2.2),
	ser('3D max', f_t_max, f_max, BLUE, 'solid', 2.2),
	ser('3D min', f_t_min, f_min, ORANGE, 'solid', 2.2)
]);
</script>
</body>
</html>
